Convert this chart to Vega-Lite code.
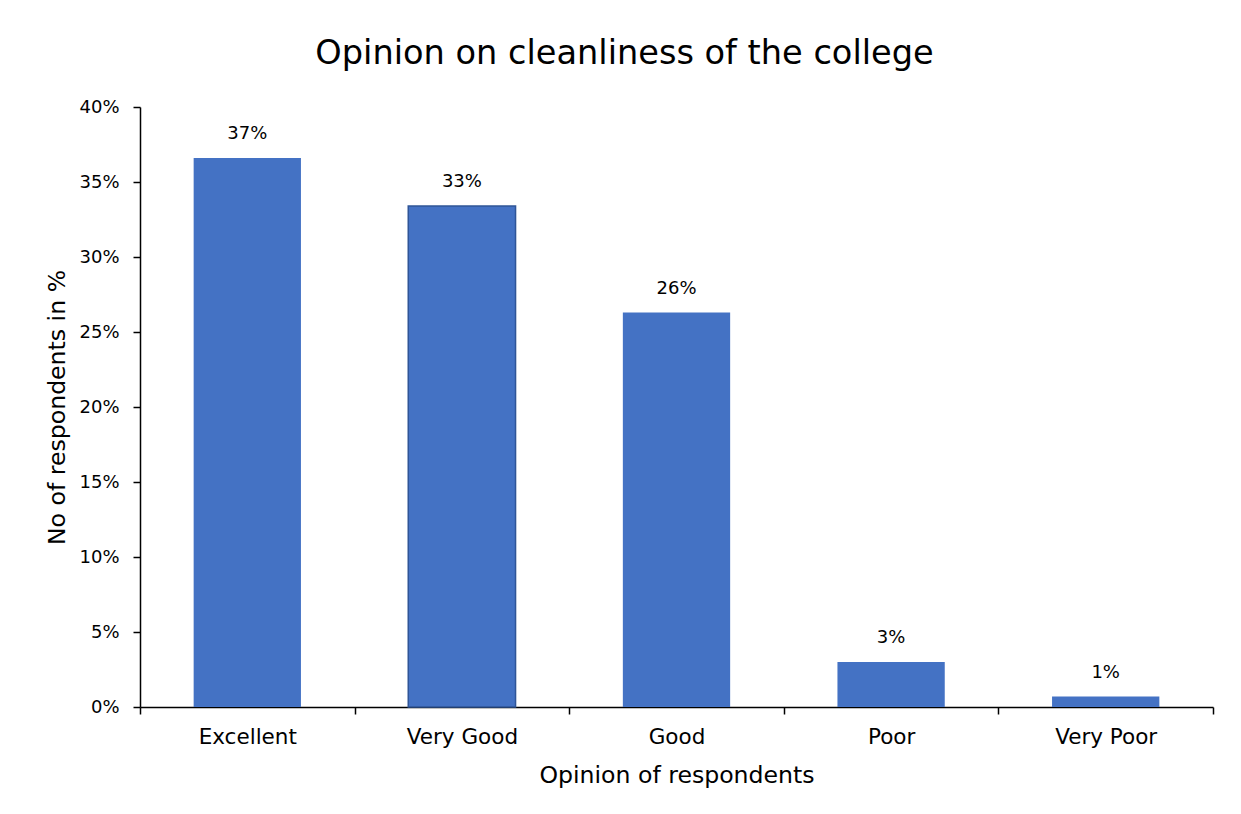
{
  "$schema": "https://vega.github.io/schema/vega-lite/v6.json",
  "autosize": "none",
  "width": 1073,
  "height": 600,
  "padding": {"left": 140, "top": 107, "right": 28, "bottom": 107},
  "background": "white",
  "title": {
    "text": "Opinion on cleanliness of the college",
    "font": "DejaVu Sans",
    "fontSize": 33.6,
    "fontWeight": "normal",
    "color": "#000000",
    "anchor": "middle",
    "frame": "group",
    "dx": -52,
    "offset": 27
  },
  "data": {
    "values": [
      {"opinion": "Excellent", "share": 0.366},
      {"opinion": "Very Good", "share": 0.334},
      {"opinion": "Good", "share": 0.263},
      {"opinion": "Poor", "share": 0.03},
      {"opinion": "Very Poor", "share": 0.007}
    ]
  },
  "encoding": {
    "x": {
      "field": "opinion",
      "type": "nominal",
      "sort": null,
      "scale": {"paddingInner": 0, "paddingOuter": 0},
      "axis": {
        "title": "Opinion of respondents",
        "titleFont": "DejaVu Sans",
        "titleFontSize": 23.6,
        "titleFontWeight": "normal",
        "titleColor": "#000000",
        "titlePadding": 16,
        "labelFont": "DejaVu Sans",
        "labelFontSize": 21.5,
        "labelColor": "#000000",
        "labelAngle": 0,
        "labelPadding": 12,
        "tickBand": "extent",
        "tickSize": 7,
        "tickColor": "#000000",
        "tickWidth": 1.5,
        "domainColor": "#000000",
        "domainWidth": 1.5
      }
    },
    "y": {
      "field": "share",
      "type": "quantitative",
      "scale": {"domain": [0, 0.4]},
      "axis": {
        "title": "No of respondents in %",
        "titleFont": "DejaVu Sans",
        "titleFontSize": 23.6,
        "titleFontWeight": "normal",
        "titleColor": "#000000",
        "titlePadding": 9,
        "format": ".0%",
        "values": [0, 0.05, 0.1, 0.15, 0.2, 0.25, 0.3, 0.35, 0.4],
        "labelFont": "DejaVu Sans",
        "labelFontSize": 18,
        "labelColor": "#000000",
        "labelPadding": 14,
        "tickSize": 7,
        "tickColor": "#000000",
        "tickWidth": 1.5,
        "domainColor": "#000000",
        "domainWidth": 1.5,
        "grid": false
      }
    }
  },
  "layer": [
    {
      "mark": {"type": "bar", "width": {"band": 0.5}, "color": "#4472C4", "strokeWidth": 1.5},
      "encoding": {
        "stroke": {
          "condition": {"test": "datum.opinion === 'Very Good'", "value": "#2F5597"},
          "value": null
        }
      }
    },
    {
      "mark": {"type": "text", "baseline": "bottom", "dy": -15, "font": "DejaVu Sans", "fontSize": 18, "color": "#000000"},
      "encoding": {
        "text": {"field": "share", "type": "quantitative", "format": ".0%"}
      }
    }
  ],
  "config": {
    "view": {"stroke": null}
  }
}
